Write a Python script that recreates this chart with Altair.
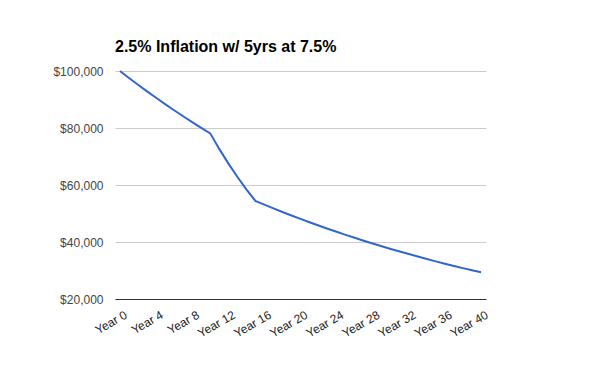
import altair as alt
import pandas as pd

years = list(range(0, 41))
values = [
    100000, 97561, 95181, 92860, 90595, 88385, 86230, 84127, 82075, 80073,
    78120, 72670, 67600, 62884, 58497, 54415, 53088, 51794, 50530, 49297,
    48095, 46922, 45778, 44661, 43572, 42509, 41472, 40461, 39474, 38511,
    37572, 36656, 35762, 34890, 34039, 33209, 32399, 31609, 30838, 30086,
    29352,
]
x_tick_values = [0, 4, 8, 12, 16, 20, 24, 28, 32, 36, 40]
y_tick_values = [20000, 40000, 60000, 80000, 100000]
title_text = "2.5% Inflation w/ 5yrs at 7.5%"

df = pd.DataFrame({"year": years, "value": values})

font = "Liberation Sans"

chart = (
    alt.Chart(df)
    .mark_line(color="#3366cc", strokeWidth=2)
    .encode(
        x=alt.X(
            "year:Q",
            scale=alt.Scale(domain=[-0.55, 40.55], nice=False, zero=False),
            axis=alt.Axis(
                values=x_tick_values,
                labelExpr="'Year ' + datum.value",
                title=None,
                grid=False,
                ticks=False,
                domain=True,
                domainColor="#333333",
                domainWidth=1,
                labelAngle=-30,
                labelAlign="right",
                labelBaseline="top",
                labelPadding=10,
                labelOffset=3,
                labelFont=font,
                labelFontSize=12,
                labelColor="#222222",
                labelOverlap=False,
                labelFlush=False,
            ),
        ),
        y=alt.Y(
            "value:Q",
            scale=alt.Scale(domain=[20000, 100000], nice=False, zero=False),
            axis=alt.Axis(
                values=y_tick_values,
                format="$,.0f",
                title=None,
                grid=True,
                gridColor="#cccccc",
                ticks=False,
                domain=False,
                labelPadding=12,
                labelFont=font,
                labelFontSize=12,
                labelColor="#444444",
            ),
        ),
    )
    .properties(
        width=371,
        height=228,
        title=alt.TitleParams(
            text=title_text,
            anchor="start",
            frame="group",
            font=font,
            fontSize=16,
            fontWeight="bold",
            color="#000000",
            baseline="alphabetic",
            offset=-3,
        ),
        autosize=alt.AutoSizeParams(type="none"),
        padding={"left": 107, "top": 63, "right": 106, "bottom": 64},
    )
    .configure_view(stroke=None)
)

chart.save("out.html", embed_options={"renderer": "svg", "actions": False})
